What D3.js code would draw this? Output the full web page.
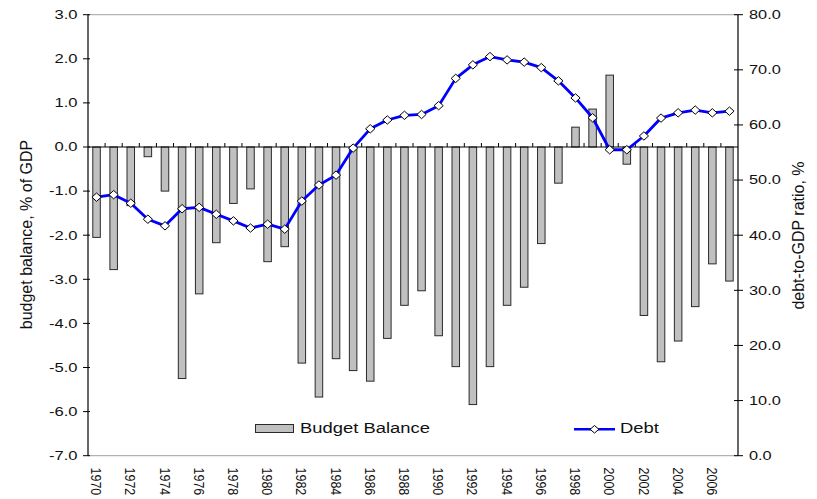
<!DOCTYPE html>
<html>
<head>
<meta charset="utf-8">
<script src="https://cdn.jsdelivr.net/npm/d3@7/dist/d3.min.js"></script>
<style>
  html, body { margin: 0; padding: 0; background: #fff; }
  svg { display: block; font-family: "Liberation Sans", Arial, sans-serif; }
</style>
</head>
<body>
<svg id="chart" width="817" height="499"></svg>
<script>
// Years on the category axis
const years = d3.range(1970, 2008);

// Budget balance, % of GDP (bars, left axis)
const budgetBalance = [
  -2.05, -2.78, -1.33, -0.22, -1.00, -5.25, -3.33, -2.17, -1.28, -0.95,
  -2.60, -2.26, -4.90, -5.67, -4.80, -5.07, -5.31, -4.34, -3.59, -3.26,
  -4.28, -4.98, -5.84, -4.98, -3.59, -3.18, -2.19, -0.82, 0.45, 0.86,
  1.63, -0.39, -3.82, -4.87, -4.40, -3.62, -2.65, -3.04
];

// Debt-to-GDP ratio, % (line, right axis)
const debt = [
  46.9, 47.35, 45.8, 42.9, 41.7, 44.8, 45.05, 43.8, 42.6, 41.3,
  42.0, 41.1, 46.2, 49.1, 50.9, 55.8, 59.3, 60.9, 61.75, 61.9,
  63.5, 68.45, 70.9, 72.4, 71.8, 71.4, 70.4, 68.0, 64.9, 61.3,
  55.5, 55.5, 58.0, 61.25, 62.2, 62.7, 62.2, 62.5
];

// Tick values and labels
const leftTicks = d3.range(-7, 3.5, 1);
const rightTicks = d3.range(0, 85, 10);
const yearLabels = years.filter(y => y % 2 === 0);

const seriesNames = ["Budget Balance", "Debt"];

const svg = d3.select("#chart");
const plot = { left: 88, right: 738, top: 14.7, bottom: 455.7 };

const x = d3.scaleBand().domain(years).range([plot.left, plot.right]).paddingInner(0).paddingOuter(0);
const yL = d3.scaleLinear().domain([-7, 3]).range([plot.bottom, plot.top]);
const yR = d3.scaleLinear().domain([0, 80]).range([plot.bottom, plot.top]);
const fmt = v => v.toFixed(1);

// Frame lines top and bottom
svg.append("line").attr("x1", plot.left).attr("x2", plot.right)
  .attr("y1", plot.top).attr("y2", plot.top).attr("stroke", "#a0a0a0").attr("stroke-width", 1);
svg.append("line").attr("x1", plot.left).attr("x2", plot.right)
  .attr("y1", plot.bottom).attr("y2", plot.bottom).attr("stroke", "#a0a0a0").attr("stroke-width", 1);

// Bars
const barW = x.bandwidth() * 0.44;
svg.append("g").selectAll("rect").data(years).join("rect")
  .attr("x", (d) => x(d) + (x.bandwidth() - barW) / 2)
  .attr("y", (d, i) => Math.min(yL(0), yL(budgetBalance[i])))
  .attr("width", barW)
  .attr("height", (d, i) => Math.abs(yL(budgetBalance[i]) - yL(0)))
  .attr("fill", "#c0c0c0")
  .attr("stroke", "#2a2a2a")
  .attr("stroke-width", 1);

// Zero line with category ticks
const y0 = yL(0);
svg.append("line").attr("x1", plot.left).attr("x2", plot.right)
  .attr("y1", y0).attr("y2", y0).attr("stroke", "#000").attr("stroke-width", 1);
svg.append("g").selectAll("line").data(years.slice(1)).join("line")
  .attr("x1", d => x(d)).attr("x2", d => x(d))
  .attr("y1", y0 - 4).attr("y2", y0)
  .attr("stroke", "#000").attr("stroke-width", 1);

// Left axis
svg.append("line").attr("x1", plot.left).attr("x2", plot.left)
  .attr("y1", plot.top).attr("y2", plot.bottom).attr("stroke", "#000").attr("stroke-width", 1.2);
const gl = svg.append("g");
gl.selectAll("line").data(leftTicks).join("line")
  .attr("x1", plot.left - 5).attr("x2", plot.left + 2)
  .attr("y1", d => yL(d)).attr("y2", d => yL(d)).attr("stroke", "#000");
gl.selectAll("text").data(leftTicks).join("text")
  .attr("transform", d => `translate(77.5,${yL(d)}) scale(1.38,1)`)
  .attr("dy", "0.36em").attr("text-anchor", "end")
  .attr("font-size", 12).attr("fill", "#111")
  .text(fmt);

// Right axis
svg.append("line").attr("x1", plot.right).attr("x2", plot.right)
  .attr("y1", plot.top).attr("y2", plot.bottom).attr("stroke", "#000").attr("stroke-width", 1.2);
const gr = svg.append("g");
gr.selectAll("line").data(rightTicks).join("line")
  .attr("x1", plot.right - 4).attr("x2", plot.right + 5)
  .attr("y1", d => yR(d)).attr("y2", d => yR(d)).attr("stroke", "#000");
gr.selectAll("text").data(rightTicks).join("text")
  .attr("transform", d => `translate(749,${yR(d)}) scale(1.36,1)`)
  .attr("dy", "0.36em").attr("text-anchor", "start")
  .attr("font-size", 12).attr("fill", "#111")
  .text(fmt);

// Year labels, rotated
svg.append("g").selectAll("text").data(yearLabels).join("text")
  .attr("transform", d => `translate(${x(d) + x.bandwidth() / 2},467.5) scale(1.2,1) rotate(90)`)
  .attr("dy", "0.36em").attr("text-anchor", "start")
  .attr("font-size", 12.5).attr("fill", "#111")
  .text(d => d);

// Axis titles
svg.append("text")
  .attr("transform", "translate(26.5,234.5) rotate(-90)")
  .attr("dy", "0.35em").attr("text-anchor", "middle")
  .attr("font-size", 16).attr("fill", "#111")
  .text("budget balance, % of GDP");
svg.append("text")
  .attr("transform", "translate(798,235.5) rotate(-90)")
  .attr("dy", "0.35em").attr("text-anchor", "middle")
  .attr("font-size", 16).attr("fill", "#111")
  .text("debt-to-GDP ratio, %");

// Debt line
const cx = d => x(d) + x.bandwidth() / 2;
const line = d3.line().x((d, i) => cx(years[i])).y(d => yR(d));
svg.append("path").datum(debt)
  .attr("d", line)
  .attr("fill", "none").attr("stroke", "#0000ff").attr("stroke-width", 2.8)
  .attr("stroke-linejoin", "round");

function diamond(px, py, hw, hh) {
  const p = d3.path();
  p.moveTo(px, py - hh); p.lineTo(px + hw, py); p.lineTo(px, py + hh); p.lineTo(px - hw, py); p.closePath();
  return p.toString();
}
svg.append("g").selectAll("path").data(debt).join("path")
  .attr("d", (d, i) => diamond(cx(years[i]), yR(d), 4.6, 4.2))
  .attr("fill", "#fff").attr("stroke", "#000").attr("stroke-width", 1);

// Legend
const leg = svg.append("g");
leg.append("rect").attr("x", 255.5).attr("y", 424.5).attr("width", 38).attr("height", 8)
  .attr("fill", "#c0c0c0").attr("stroke", "#2a2a2a").attr("stroke-width", 1);
leg.append("text").attr("transform", "translate(300,433.3) scale(1.27,1)")
  .attr("font-size", 14.5).attr("fill", "#111").text(seriesNames[0]);
leg.append("line").attr("x1", 574).attr("x2", 615).attr("y1", 429.3).attr("y2", 429.3)
  .attr("stroke", "#0000ff").attr("stroke-width", 2.5);
leg.append("path").attr("d", diamond(594.5, 429.3, 4.4, 3.8))
  .attr("fill", "#fff").attr("stroke", "#000").attr("stroke-width", 1);
leg.append("text").attr("transform", "translate(620,433.3) scale(1.27,1)")
  .attr("font-size", 14.5).attr("fill", "#111").text(seriesNames[1]);
</script>
</body>
</html>
